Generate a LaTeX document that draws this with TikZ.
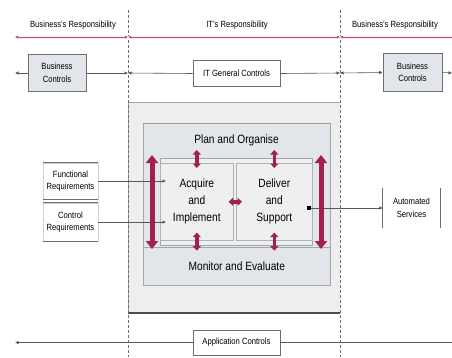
\documentclass[tikz,border=0pt]{standalone}
\usepackage{fontspec}
\setmainfont{Liberation Sans}[FakeStretch=0.85]
\usetikzlibrary{arrows.meta}
\definecolor{crim}{HTML}{A3204E}
\definecolor{pinkline}{HTML}{D24A68}
\definecolor{boxfill}{HTML}{E2E5EA}
\definecolor{bigfill}{HTML}{EEEEEE}
\definecolor{innerfill}{HTML}{EDEFF1}
\definecolor{edge}{HTML}{6E6E6E}
\tikzset{
 lbl/.style={font=\fontsize{9}{12.5}\selectfont, text=black, align=center, inner sep=0pt},
 mainlbl/.style={font=\fontsize{12}{17}\selectfont, text=black, align=center, inner sep=0pt},
 ctrlbox/.style={draw=edge, fill=boxfill, line width=0.7pt, lbl},
 whitebox/.style={draw=edge, fill=white, line width=0.7pt, lbl},
 reqbox/.style={draw=gray!35, fill=white, line width=0.5pt, lbl},
 panel/.style={draw=gray!70, fill=boxfill, line width=0.6pt},
 subpanel/.style={draw=gray!60, fill=innerfill, line width=0.6pt, mainlbl},
 conn/.style={draw=edge!80!black, line width=0.6pt},
 tipl/.style={-{Latex[length=3.5pt,width=3.5pt]}},
 tipb/.style={{Latex[length=3.5pt,width=3.5pt]}-{Latex[length=3.5pt,width=3.5pt]}},
 bigarrow/.style={draw=crim, line width=5pt, {Triangle[width=12pt,length=8pt]}-{Triangle[width=12pt,length=8pt]}},
 smallarrow/.style={draw=crim, line width=3.5pt, {Triangle[width=8pt,length=4.5pt]}-{Triangle[width=8pt,length=4.5pt]}},
 divider/.style={draw=edge, line width=0.6pt, dash pattern=on 3pt off 2pt},
}
\begin{document}
\begin{tikzpicture}[x=1pt,y=-1pt]
\useasboundingbox[fill=white] (0,0) rectangle (452,357);
% IT area
\fill[bigfill] (128,102) rectangle (340,313);
\draw[gray!70, line width=0.6pt] (128,313) -- (128,102) -- (340,102);
\draw[edge!70!black, line width=1.2pt] (128,313) -- (340,313);
% dividers
\coordinate (d1t) at (128,10); \coordinate (d1b) at (128,357);
\coordinate (d2t) at (340,10); \coordinate (d2b) at (340,357);
\draw[divider] (d1t) -- (d1b);
\draw[divider] (d2t) -- (d2b);
% headers
\node[lbl] (h1) at (73,25) {Business's Responsibility};
\node[lbl] (h2) at (237,25) {IT's Responsibility};
\node[lbl] (h3) at (395,25) {Business's Responsibility};
% responsibility line
\coordinate (rl) at (15,37); \coordinate (rm1) at (128,37);
\coordinate (rm2) at (340,37); \coordinate (rr) at (452,37);
\draw[pink!30, line width=3pt] (rl) -- (rr);
\draw[pinkline, line width=0.8pt, {Latex[length=3pt,width=3pt,color=edge]}-{Latex[length=3pt,width=3pt,color=edge]}] (rl) -- (rm1);
\draw[pinkline, line width=0.8pt, {Latex[length=3pt,width=3pt,color=edge]}-{Latex[length=3pt,width=3pt,color=edge]}] (rm1) -- (rm2);
\draw[pinkline, line width=0.8pt, {Latex[length=3pt,width=3pt,color=edge]}-] (rm2) -- (rr);
% controls row
\node[ctrlbox, minimum width=58, minimum height=37] (bc1) at (57,73) {Business\\Controls};
\node[whitebox, minimum width=87, minimum height=26] (itgc) at (236.5,73.5) {IT General Controls};
\node[ctrlbox, minimum width=59, minimum height=38] (bc2) at (412.5,72.5) {Business\\Controls};
\coordinate (cl) at (15,73); \coordinate (cm1) at (128,73);
\coordinate (cm2) at (340,73); \coordinate (crr) at (452,73);
\draw[conn,tipl] (bc1.west) -- (cl);
\draw[conn,tipl] (bc1.east) -- (cm1);
\draw[conn,tipl] (itgc.west) -- (cm1);
\draw[conn,tipl] (itgc.east) -- (cm2);
\draw[conn,tipb] (cm2) -- (bc2.west);
\draw[conn,tipl] (bc2.east) -- (crr);
% process panels
\node[panel, minimum width=187, minimum height=124, anchor=north west] (po) at (143,123) {};
\draw[gray!80, line width=0.9pt] (po.north west) -- (po.north east);
\node[mainlbl] (polbl) at (236.5,140) {Plan and Organise};
\node[draw=gray!70, fill=innerfill, line width=0.7pt, minimum width=152, minimum height=87, anchor=north west] (inner) at (160,158) {};
\node[subpanel, minimum width=73, minimum height=77, anchor=north west] (acq) at (160,163) {Acquire\\and\\Implement};
\node[subpanel, minimum width=76, minimum height=77, anchor=north west] (dl) at (236,163) {Deliver\\and\\Support};
\node[panel, mainlbl, minimum width=187, minimum height=38, anchor=north west] (me) at (143,247) {Monitor and Evaluate};
% requirements
\node[reqbox, minimum width=55, minimum height=36] (fr) at (70.5,181) {Functional\\Requirements};
\node[reqbox, minimum width=55, minimum height=38] (ctr) at (70.5,222) {Control\\Requirements};
\draw[edge, line width=0.7pt] (fr.north west) -- (fr.north east) (fr.south west) -- (fr.south east);
\draw[edge, line width=0.7pt] (ctr.north west) -- (ctr.north east) (ctr.south west) -- (ctr.south east);
\coordinate (acqin) at (166,0);
\draw[conn,tipl] (fr.east) -- (fr.east -| acqin);
\draw[conn,tipl] (ctr.east) -- (ctr.east -| acqin);
% automated services
\node[lbl, minimum width=57, minimum height=40] (auto) at (411.5,208) {Automated\\Services};
\draw[edge, line width=0.7pt] (auto.north west) -- (auto.south west) (auto.north east) -- (auto.south east);
\coordinate (dlout) at (309,208);
\draw[conn,tipl] (dlout) -- (auto.west);
\fill[black] (dlout) +(-1.8,-1.8) rectangle +(1.8,1.8);
% red arrows
\coordinate (bl1) at (152,155); \coordinate (bl2) at (152,249);
\coordinate (br1) at (321,155); \coordinate (br2) at (321,249);
\draw[bigarrow] (bl1) -- (bl2);
\draw[bigarrow] (br1) -- (br2);
\draw[smallarrow] ([yshift=13pt]acq.north) -- ([yshift=-5pt]acq.north);
\draw[smallarrow] ([yshift=13pt]dl.north) -- ([yshift=-5pt]dl.north);
\draw[smallarrow] ([yshift=8pt]acq.south) -- ([yshift=-10pt]acq.south);
\draw[smallarrow] ([yshift=8pt]dl.south) -- ([yshift=-10pt]dl.south);
\draw[smallarrow] ([xshift=-5pt]acq.east) -- ([xshift=6pt]dl.west);
% application controls
\node[whitebox, minimum width=87, minimum height=25] (app) at (236.5,342.5) {Application Controls};
\coordinate (al) at (15,342.5); \coordinate (ar) at (452,342.5);
\draw[conn,tipl] (app.west) -- (al);
\draw[conn] (app.east) -- (ar);
\end{tikzpicture}
\end{document}
